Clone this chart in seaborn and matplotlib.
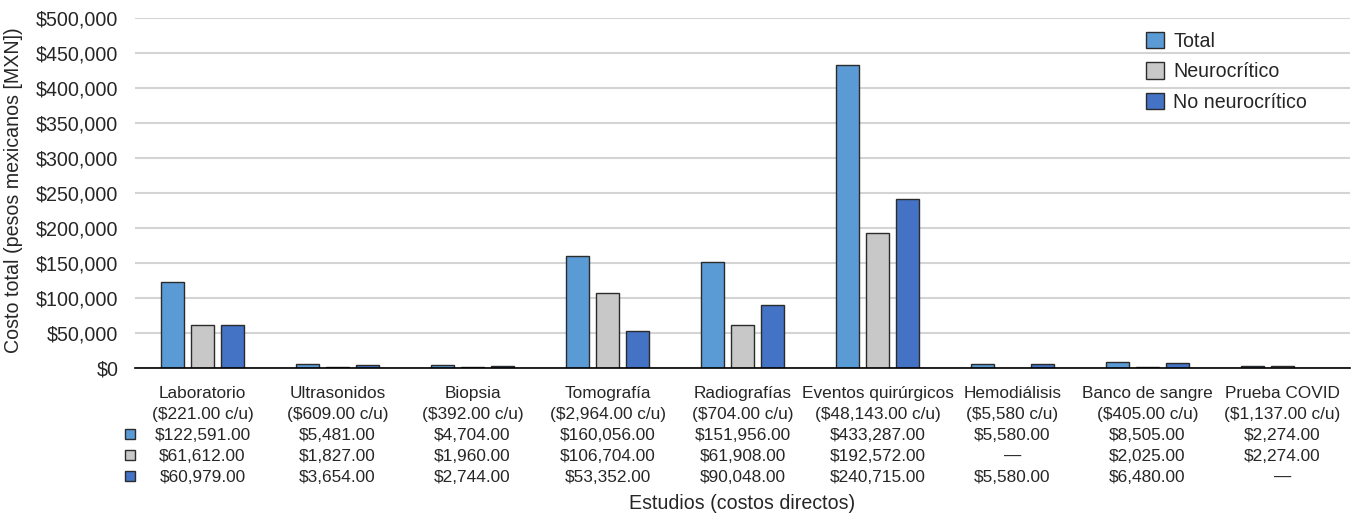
import numpy as np
import pandas as pd
import matplotlib
matplotlib.use("Agg")
import matplotlib.pyplot as plt
import matplotlib.transforms as mtransforms
from matplotlib.patches import Patch
from matplotlib.ticker import FuncFormatter, MultipleLocator
import seaborn as sns

# Direct costs per study type (MXN)
estudios = ["Laboratorio", "Ultrasonidos", "Biopsia", "Tomografía", "Radiografías",
            "Eventos quirúrgicos", "Hemodiálisis", "Banco de sangre", "Prueba COVID"]
costo_unitario = ["$221.00 c/u", "$609.00 c/u", "$392.00 c/u", "$2,964.00 c/u", "$704.00 c/u",
                  "$48,143.00 c/u", "$5,580 c/u", "$405.00 c/u", "$1,137.00 c/u"]
total = [122591, 5481, 4704, 160056, 151956, 433287, 5580, 8505, 2274]
neurocritico = [61612, 1827, 1960, 106704, 61908, 192572, np.nan, 2025, 2274]
no_neurocritico = [60979, 3654, 2744, 53352, 90048, 240715, 5580, 6480, np.nan]

series = ["Total", "Neurocrítico", "No neurocrítico"]
colores = ["#5B9BD5", "#C8C8C8", "#4472C4"]
valores = [total, neurocritico, no_neurocritico]

W, H = 1358, 518
sns.set_style("white")
plt.rcParams["font.family"] = ["Liberation Sans", "DejaVu Sans"]

frames = [pd.DataFrame({"Estudio": estudios, "Costo": v, "Serie": s})
          for s, v in zip(series, valores)]
df = pd.concat(frames, ignore_index=True).dropna(subset=["Costo"])

fig = plt.figure(figsize=(W / 100, H / 100), dpi=100)
ax = fig.add_axes([135 / W, 150 / H, 1215 / W, 350 / H])

edge = "#2b2b2b"
sns.barplot(data=df, x="Estudio", y="Costo", hue="Serie", order=estudios,
            hue_order=series, palette=colores, saturation=1, width=0.667, gap=0.22,
            edgecolor=edge, linewidth=1.0, errorbar=None, legend=False, ax=ax)

ax.set_xlim(-0.5, len(estudios) - 0.5)
ax.set_ylim(0, 500000)
ax.yaxis.set_major_locator(MultipleLocator(50000))
ax.yaxis.set_major_formatter(FuncFormatter(lambda v, p: f"${v:,.0f}"))
ax.tick_params(axis="y", length=0, pad=12, labelsize=14.1)
ax.set_xticks([])
ax.set_xlabel("")
ax.set_ylabel("")
ax.yaxis.grid(True, color="#D4D4D4", lw=1.5)
ax.set_axisbelow(True)
for side in ["left", "top", "right"]:
    ax.spines[side].set_visible(False)
ax.spines["bottom"].set_color("black")
ax.spines["bottom"].set_linewidth(1.2)

# Data table under the axis
fy = lambda px: 1 - px / H
trans = mtransforms.blended_transform_factory(ax.transData, fig.transFigure)
fmt = lambda v: "—" if np.isnan(v) else f"${v:,.2f}"
fs_tab = 12.4
for i, (name, cu) in enumerate(zip(estudios, costo_unitario)):
    ax.text(i, fy(398), name, transform=trans, ha="center", va="baseline", fontsize=fs_tab)
    ax.text(i, fy(419), f"({cu})", transform=trans, ha="center", va="baseline", fontsize=fs_tab)
    for r, v in enumerate(valores):
        ax.text(i, fy(440 + 21 * r), fmt(float(v[i])), transform=trans,
                ha="center", va="baseline", fontsize=fs_tab)

for r, c in enumerate(colores):
    ax.plot([130 / W], [fy(433.5 + 21 * r)], marker="s", ms=7.2, mfc=c, mec=edge,
            mew=1.0, transform=fig.transFigure, clip_on=False)

handles = [Patch(facecolor=c, edgecolor=edge, lw=1.0) for c in colores]
fig.legend(handles, series, loc="upper left", bbox_to_anchor=(1146 / W, fy(32)),
           frameon=False, fontsize=14.1, handlelength=0.9, handleheight=0.9,
           handletextpad=0.5, labelspacing=0.58, borderpad=0, borderaxespad=0)

fig.text(14 / W, fy(190), "Costo total (pesos mexicanos [MXN])", rotation=90,
         ha="center", va="center", fontsize=14.1)
fig.text(742.5 / W, fy(509), "Estudios (costos directos)", ha="center",
         va="baseline", fontsize=14.1)

fig.savefig("out.png", dpi=100)
